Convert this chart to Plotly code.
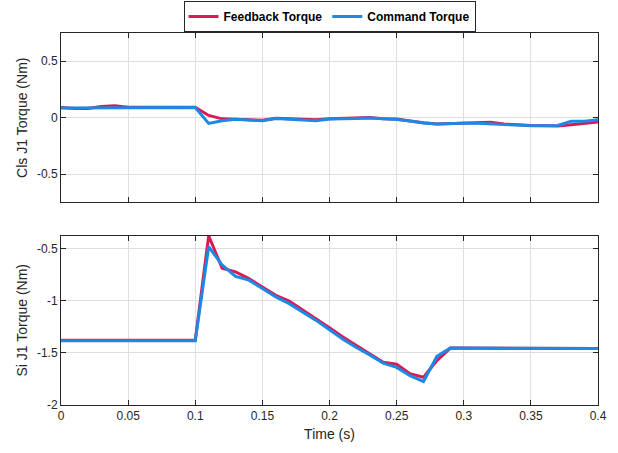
import plotly.graph_objects as go
from plotly.subplots import make_subplots

time = [round(i * 0.01, 2) for i in range(41)]

cls_feedback = [0.091, 0.082, 0.082, 0.100, 0.106, 0.092, 0.092, 0.092, 0.092, 0.092,
                0.093, 0.020, -0.010, -0.014, -0.016, -0.022, -0.004, -0.010, -0.012, -0.018,
                -0.010, -0.005, -0.004, 0.002, -0.008, -0.012, -0.028, -0.045, -0.055, -0.050,
                -0.048, -0.045, -0.041, -0.056, -0.063, -0.068, -0.070, -0.074, -0.062, -0.047,
                -0.038]
cls_command = [0.086, 0.086, 0.088, 0.090, 0.090, 0.090, 0.090, 0.090, 0.090, 0.090,
               0.090, -0.050, -0.027, -0.014, -0.018, -0.027, -0.006, -0.012, -0.018, -0.027,
               -0.012, -0.006, -0.006, -0.002, -0.009, -0.015, -0.030, -0.047, -0.056, -0.050,
               -0.050, -0.050, -0.053, -0.059, -0.065, -0.071, -0.071, -0.068, -0.032, -0.032,
               -0.018]

si_feedback = [-1.38] * 11 + [-0.38, -0.69, -0.725, -0.79, -0.87, -0.95, -1.005, -1.09, -1.17,
                              -1.26, -1.35, -1.43, -1.51, -1.59, -1.61, -1.70, -1.735, -1.575, -1.455,
                              -1.455, -1.455, -1.455, -1.456, -1.457, -1.457, -1.458, -1.458, -1.459, -1.459,
                              -1.46]
si_command = [-1.385] * 11 + [-0.485, -0.66, -0.77, -0.805, -0.885, -0.965, -1.03, -1.11, -1.19,
                              -1.28, -1.37, -1.45, -1.52, -1.60, -1.64, -1.72, -1.775, -1.535, -1.455,
                              -1.455, -1.455, -1.455, -1.456, -1.457, -1.457, -1.458, -1.458, -1.459, -1.459,
                              -1.46]

x_ticks = [0, 0.05, 0.1, 0.15, 0.2, 0.25, 0.3, 0.35, 0.4]
x_ticktext = ["0", "0.05", "0.1", "0.15", "0.2", "0.25", "0.3", "0.35", "0.4"]
top_yticks = [-0.5, 0, 0.5]
top_yticktext = ["-0.5", "0", "0.5"]
bot_yticks = [-2, -1.5, -1, -0.5]
bot_yticktext = ["-2", "-1.5", "-1", "-0.5"]

RED = "#D81B55"
BLUE = "#1E88E5"
AX = "#262626"
GRID = "#DFDFDF"
FONT = "Liberation Sans, Arial, sans-serif"

fig = make_subplots(rows=2, cols=1, vertical_spacing=0.089)

fig.add_trace(go.Scatter(x=time, y=cls_feedback, mode="lines", name="Feedback Torque",
                         line=dict(color=RED, width=3), legendgroup="fb"), row=1, col=1)
fig.add_trace(go.Scatter(x=time, y=cls_command, mode="lines", name="Command Torque",
                         line=dict(color=BLUE, width=3), legendgroup="cmd"), row=1, col=1)
fig.add_trace(go.Scatter(x=time, y=si_feedback, mode="lines", name="Feedback Torque",
                         line=dict(color=RED, width=3), legendgroup="fb", showlegend=False), row=2, col=1)
fig.add_trace(go.Scatter(x=time, y=si_command, mode="lines", name="Command Torque",
                         line=dict(color=BLUE, width=3), legendgroup="cmd", showlegend=False), row=2, col=1)

common_axis = dict(showline=True, linecolor=AX, linewidth=1, mirror="ticks",
                   ticks="inside", ticklen=5, tickcolor=AX, showgrid=True,
                   gridcolor=GRID, gridwidth=1, zeroline=False,
                   tickfont=dict(family=FONT, size=12, color=AX))

fig.update_xaxes(range=[0, 0.4], tickvals=x_ticks, ticktext=x_ticktext, **common_axis)
fig.update_xaxes(showticklabels=False, row=1, col=1)
fig.update_xaxes(title=dict(text="Time (s)", font=dict(family=FONT, size=14, color=AX), standoff=6),
                 row=2, col=1)
fig.update_yaxes(**common_axis)
fig.update_yaxes(range=[-0.75, 0.75], tickvals=top_yticks, ticktext=top_yticktext,
                 title=dict(text="Cls J1 Torque (Nm)", font=dict(family=FONT, size=14, color=AX), standoff=6),
                 row=1, col=1)
fig.update_yaxes(range=[-2, -0.378], tickvals=bot_yticks, ticktext=bot_yticktext,
                 title=dict(text="Si J1 Torque (Nm)", font=dict(family=FONT, size=14, color=AX), standoff=6),
                 row=2, col=1)

fig.update_layout(
    width=618, height=453,
    margin=dict(l=61, r=20, t=33, b=48, autoexpand=False),
    paper_bgcolor="white", plot_bgcolor="white",
    showlegend=True,
    legend=dict(orientation="h", x=0.5, xanchor="center", y=1.086, yanchor="top",
                bgcolor="white", bordercolor=AX, borderwidth=1,
                font=dict(family=FONT, size=12, color="#000000", weight="bold"),
                itemwidth=30, tracegroupgap=0),
)

fig.write_html("out.html")
